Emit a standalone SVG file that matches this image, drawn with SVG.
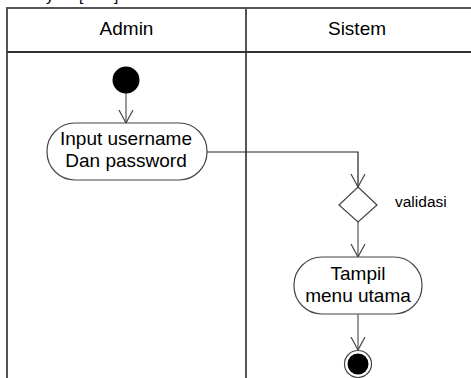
<svg xmlns="http://www.w3.org/2000/svg" width="471" height="378" viewBox="0 0 471 378">
  <style>
    .lane { stroke: #555; stroke-width: 2; fill: none; }
    .head { stroke: #333; stroke-width: 2; fill: none; }
    .act { fill: #fff; stroke: #444; stroke-width: 1.2; }
    .flow { stroke: #222; stroke-width: 1.2; fill: none; }
    .flowg { stroke: #555; stroke-width: 1.2; fill: none; }
    .lbl { font-family: "Liberation Sans", Arial, sans-serif; font-size: 19px; fill: #000; text-anchor: middle; }
    .note { font-family: "Liberation Sans", Arial, sans-serif; font-size: 15.5px; fill: #000; }
  </style>
  <defs>
    <marker id="open" viewBox="0 0 14 16" refX="13" refY="8" markerWidth="14" markerHeight="16" markerUnits="userSpaceOnUse" orient="auto">
      <path d="M0,1 L13,8 L0,15" fill="none" stroke="#444" stroke-width="1.2"/>
    </marker>
  </defs>
  <rect width="471" height="378" fill="#fff"/>

  <!-- caption above the frame, mostly outside the page -->
  <text class="note" x="46 79 114" y="1" font-size="15">y[]</text>

  <!-- swimlanes -->
  <g id="swimlanes">
    <line class="lane" x1="7" y1="8" x2="471" y2="8"/>
    <line class="lane" x1="7" y1="7" x2="7" y2="378"/>
    <line class="lane" x1="246" y1="8" x2="246" y2="378"/>
    <line class="head" x1="7" y1="52" x2="471" y2="52"/>
    <text class="lbl" x="126.5" y="35">Admin</text>
    <text class="lbl" x="357" y="35">Sistem</text>
  </g>

  <!-- connectors -->
  <g id="connectors">
    <line class="flowg" x1="126" y1="93" x2="126" y2="123" marker-end="url(#open)"/>
    <polyline class="flow" points="207,152 358,152 358,187" marker-end="url(#open)"/>
    <line class="flowg" x1="358" y1="222" x2="358" y2="257" marker-end="url(#open)"/>
    <line class="flowg" x1="358" y1="314" x2="358" y2="350" marker-end="url(#open)"/>
  </g>

  <g id="start">
    <circle cx="126" cy="80" r="13.5" fill="#000"/>
  </g>

  <g id="input-login">
    <rect class="act" x="47" y="123" width="160" height="57" rx="28" ry="28"/>
    <text class="lbl" x="126" y="145">Input username</text>
    <text class="lbl" x="126" y="167">Dan password</text>
  </g>

  <g id="validasi">
    <polygon class="act" points="358,187 377,205 358,222 339,205"/>
    <text class="note" x="395" y="207">validasi</text>
  </g>

  <g id="tampil-menu">
    <rect class="act" x="294" y="257" width="128" height="57" rx="28" ry="28"/>
    <text class="lbl" x="358" y="280">Tampil</text>
    <text class="lbl" x="358" y="302">menu utama</text>
  </g>

  <g id="end">
    <circle cx="358" cy="364" r="13.5" fill="#fff" stroke="#444" stroke-width="1.2"/>
    <circle cx="358" cy="364" r="10.5" fill="#000"/>
  </g>
</svg>
